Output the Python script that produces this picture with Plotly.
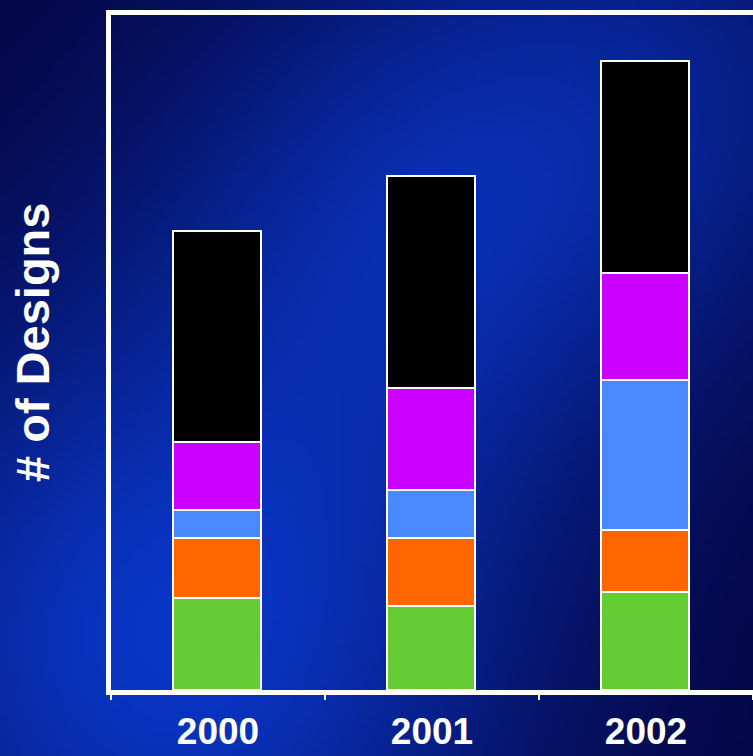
import base64, struct, zlib
import numpy as np
import plotly.graph_objects as go

# ---- data ----
years = ["2000", "2001", "2002"]
green = [9.2, 8.4, 9.8]
orange = [6.0, 6.8, 6.2]
blue = [2.8, 4.8, 15.0]
purple = [6.8, 10.2, 10.7]
black = [21.1, 21.2, 21.2]
series_names = ["Green", "Orange", "Blue", "Purple", "Black"]
series_colors = ["#66CC33", "#FF6600", "#4A88FF", "#CC00FF", "#000000"]
y_title = "# of Designs"

W, H = 753, 756
L, R, T, B = 111, 0, 15, 66
PW, PH = W - L - R, H - T - B


# ---- background gradient image ----
def make_png(arr):
    h, w, _ = arr.shape
    raw = b"".join(b"\x00" + arr[i].astype(np.uint8).tobytes() for i in range(h))

    def chunk(tag, data):
        c = struct.pack(">I", len(data)) + tag + data
        return c + struct.pack(">I", zlib.crc32(tag + data) & 0xFFFFFFFF)

    return (b"\x89PNG\r\n\x1a\n" + chunk(b"IHDR", struct.pack(">IIBBBBB", w, h, 8, 2, 0, 0, 0))
            + chunk(b"IDAT", zlib.compress(raw, 9)) + chunk(b"IEND", b""))


gw, gh = 151, 152
xs = np.linspace(0, W, gw)[None, :]
ys = np.linspace(0, H, gh)[:, None]


def g(cx, cy, r):
    return np.exp(-(((xs - cx) ** 2 + (ys - cy) ** 2) / r ** 2))


t = 0.1 + 0.5 * g(430, 220, 280) + 0.75 * g(170, 650, 340) + 0.3 * g(680, 60, 260)
t = np.clip(t, 0, 1)
rch = 4 + 6 * t
gch = 0 + 62 * t
bch = 50 + 170 * t
img = np.stack([rch, gch, bch], axis=-1)
src = "data:image/png;base64," + base64.b64encode(make_png(img)).decode()

fig = go.Figure()
for name, col, vals in zip(series_names, series_colors, [green, orange, blue, purple, black]):
    fig.add_trace(go.Bar(x=years, y=vals, name=name, marker=dict(color=col, line=dict(color="white", width=2)),
                         width=0.41, offset=-0.21))

fig.update_layout(
    width=W, height=H,
    margin=dict(l=L, r=R, t=T, b=B, autoexpand=False),
    barmode="stack",
    showlegend=False,
    paper_bgcolor="#0a1e9a",
    plot_bgcolor="rgba(0,0,0,0)",
    images=[dict(source=src, xref="paper", yref="paper", x=-L / PW, y=1 + T / PH,
                 sizex=W / PW, sizey=H / PH, sizing="stretch", xanchor="left", yanchor="top",
                 layer="below")],
    font=dict(family="Liberation Sans, Arial, sans-serif", color="white"),
    xaxis=dict(showline=True, linecolor="white", linewidth=5, mirror=True, ticks="outside",
               tickson="boundaries", ticklen=5, tickwidth=2, tickcolor="white", ticklabelstandoff=5,
               automargin=False,
               tickfont=dict(size=37, color="white", weight="bold"), showgrid=False),
    yaxis=dict(showline=True, linecolor="white", linewidth=5, range=[0, 67.5], showticklabels=False,
               ticks="", showgrid=False, zeroline=False, automargin=False),
    annotations=[dict(text=y_title, textangle=-90, xref="paper", yref="paper",
                      x=(33 - L) / PW, y=(690 - 343) / PH, xanchor="center", yanchor="middle",
                      showarrow=False, font=dict(size=47, color="white", weight="bold"))],
)

fig.write_html("out.html")
